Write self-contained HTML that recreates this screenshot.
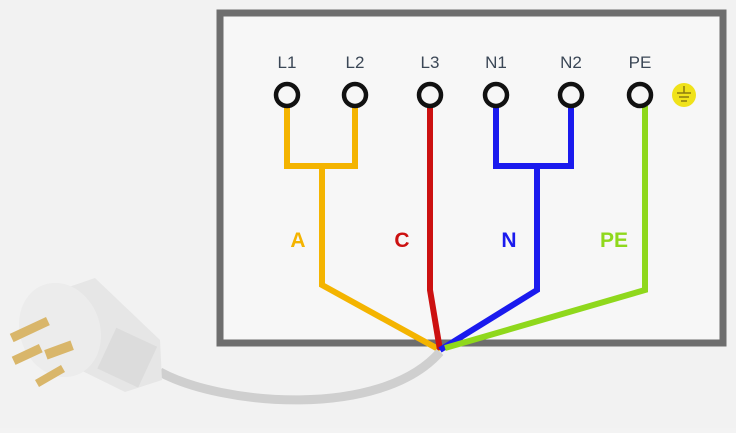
<!DOCTYPE html>
<html><head><style>
html,body{margin:0;padding:0;background:#f3f3f3;}
</style></head><body>
<svg width="736" height="428" viewBox="0 0 736 428" xmlns="http://www.w3.org/2000/svg" font-family="Liberation Sans, sans-serif">
<rect x="0" y="0" width="736" height="428" fill="#f2f2f2"/>
<rect x="220" y="13" width="503" height="330" fill="#f7f7f7" stroke="#6e6e6e" stroke-width="7"/>
<g font-size="17" fill="#3b4756" text-anchor="middle">
<text x="287" y="68">L1</text><text x="355" y="68">L2</text><text x="430" y="68">L3</text>
<text x="496" y="68">N1</text><text x="571" y="68">N2</text><text x="640" y="68">PE</text>
</g>
<g fill="none" stroke-width="6" stroke-linejoin="miter">
<path d="M287 106 V166 H355 V106" stroke="#f4b400"/>
<path d="M322 166 V285 L440 350" stroke="#f4b400"/>
<path d="M430 106 V290 L440 350" stroke="#cc1111"/>
<path d="M496 106 V166 H571 V106" stroke="#1a1aee"/>
<path d="M537 166 V290 L440 350" stroke="#1a1aee"/>
<path d="M645 106 V290 L445 348" stroke="#8fd81c"/>
<path d="M440 352 C380 420 220 405 160 372" stroke="#cfcfcf" stroke-width="9"/>
</g>
<g fill="none" stroke="#111" stroke-width="4.5">
<circle cx="287" cy="95" r="11"/><circle cx="355" cy="95" r="11"/><circle cx="430" cy="95" r="11"/>
<circle cx="496" cy="95" r="11"/><circle cx="571" cy="95" r="11"/><circle cx="640" cy="95" r="11"/>
</g>
<circle cx="684" cy="95" r="12" fill="#f0e21a"/>
<g stroke="#8a7a10" stroke-width="1.5"><line x1="684" y1="86" x2="684" y2="93"/><line x1="677" y1="93" x2="691" y2="93"/><line x1="679" y1="97" x2="689" y2="97"/><line x1="681" y1="101" x2="687" y2="101"/></g>
<g font-size="21" font-weight="bold" text-anchor="middle">
<text x="298" y="247" fill="#f4b400">A</text>
<text x="402" y="247" fill="#cc1111">C</text>
<text x="509" y="247" fill="#1a1aee">N</text>
<text x="614" y="247" fill="#8fd81c">PE</text>
</g>
<g>
<path d="M60 290 L95 278 L160 340 L162 380 L125 392 L60 360 Z" fill="#e6e6e6"/>
<ellipse cx="60" cy="330" rx="40" ry="48" fill="#ececec" transform="rotate(-20 60 330)"/>
<rect x="105" y="335" width="45" height="45" fill="#dcdcdc" transform="rotate(25 127 357)"/>
<rect x="10" y="325" width="40" height="9" fill="#d9b66a" transform="rotate(-25 30 330)"/>
<rect x="12" y="350" width="30" height="9" fill="#d9b66a" transform="rotate(-25 27 354)"/>
<rect x="45" y="345" width="28" height="10" fill="#d9b66a" transform="rotate(-20 59 350)"/>
<rect x="35" y="372" width="30" height="8" fill="#d9b66a" transform="rotate(-30 50 376)"/>
</g>
</svg>
</body></html>
